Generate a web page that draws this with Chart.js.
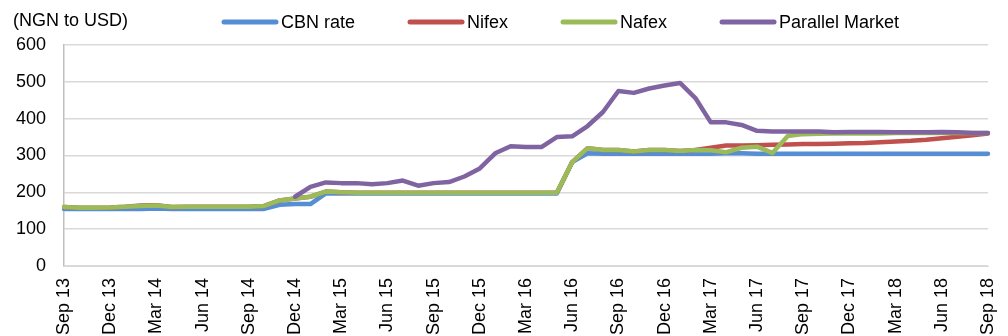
<!DOCTYPE html>
<html>
<head>
<meta charset="utf-8">
<script src="https://cdn.jsdelivr.net/npm/chart.js@4.4.1/dist/chart.umd.min.js"></script>
<style>
    html, body { margin: 0; padding: 0; background: #fff; }
    #wrap { position: relative; width: 1008px; height: 336px; }
</style>
</head>
<body>
<div id="wrap"><canvas id="fxRatesChart"></canvas></div>
<script>
const months = [
    'Sep 13', 'Oct 13', 'Nov 13', 'Dec 13', 'Jan 14', 'Feb 14', 'Mar 14', 'Apr 14', 'May 14', 'Jun 14',
    'Jul 14', 'Aug 14', 'Sep 14', 'Oct 14', 'Nov 14', 'Dec 14', 'Jan 15', 'Feb 15', 'Mar 15', 'Apr 15',
    'May 15', 'Jun 15', 'Jul 15', 'Aug 15', 'Sep 15', 'Oct 15', 'Nov 15', 'Dec 15', 'Jan 16', 'Feb 16',
    'Mar 16', 'Apr 16', 'May 16', 'Jun 16', 'Jul 16', 'Aug 16', 'Sep 16', 'Oct 16', 'Nov 16', 'Dec 16',
    'Jan 17', 'Feb 17', 'Mar 17', 'Apr 17', 'May 17', 'Jun 17', 'Jul 17', 'Aug 17', 'Sep 17', 'Oct 17',
    'Nov 17', 'Dec 17', 'Jan 18', 'Feb 18', 'Mar 18', 'Apr 18', 'May 18', 'Jun 18', 'Jul 18', 'Aug 18',
    'Sep 18'
];

const cbnRate = [
    155, 155, 155, 155, 155, 155, 156, 155, 155, 155,
    155, 155, 155, 155, 166, 168, 168, 197, 197, 197,
    197, 197, 197, 197, 197, 197, 197, 197, 197, 197,
    197, 197, 197, 282, 306, 305, 305, 305, 305, 305,
    305, 305, 305, 306, 306, 305, 305, 305, 305, 305,
    305, 305, 305, 305, 305, 305, 305, 305, 305, 305,
    305
];

const nifex = [
    160, 158, 158, 159, 161, 164, 165, 160, 161, 161,
    161, 161, 161, 163, 178, 183, 188, 202, 200, 199,
    199, 199, 199, 199, 199, 199, 199, 199, 199, 199,
    199, 199, 199, 282, 320, 315, 315, 311, 315, 315,
    312, 315, 321, 327, 327, 328, 329, 330, 331, 331,
    332, 333, 334, 336, 338, 340, 343, 347, 351, 355,
    360
];

const nafex = [
    160, 158, 158, 159, 161, 163, 164, 160, 161, 161,
    161, 161, 161, 163, 178, 183, 188, 202, 200, 199,
    199, 199, 199, 199, 199, 199, 199, 199, 199, 199,
    199, 199, 199, 282, 320, 315, 315, 311, 315, 315,
    312, 315, 314, 309, 321, 324, 307, 353, 358, 359,
    360, 360, 360, 360, 361, 361, 361, 361, 361, 361,
    361
];

const parallelMarket = [
    null, null, null, null, null, null, null, null, null, null,
    null, null, null, null, null, 188, 215, 227, 225, 225,
    222, 225, 232, 218, 225, 228, 243, 265, 306, 325,
    323, 323, 350, 352, 380, 418, 475, 470, 482, 490,
    497, 456, 390, 390, 383, 367, 365, 365, 365, 365,
    363, 364, 364, 364, 363, 363, 363, 364, 363, 361,
    361
];

const yTicks = [0, 100, 200, 300, 400, 500, 600];

const FONT = '"Liberation Sans", Arial, sans-serif';

// legend drawn as long line swatches, plus the unit caption at top left
const lineLegend = {
    id: 'lineLegend',
    afterDraw(chart) {
        const ctx = chart.ctx;
        ctx.save();
        ctx.font = '18px ' + FONT;
        ctx.fillStyle = '#000';
        ctx.textBaseline = 'middle';
        ctx.textAlign = 'left';
        ctx.fillText('(NGN to USD)', 13, 21);

        let x = 224;
        const y = 22;
        chart.data.datasets.forEach(ds => {
            ctx.strokeStyle = ds.borderColor;
            ctx.lineWidth = 5;
            ctx.lineCap = 'round';
            ctx.beginPath();
            ctx.moveTo(x, y);
            ctx.lineTo(x + 52, y);
            ctx.stroke();
            ctx.fillText(ds.label, x + 57, y + 1);
            x += 57 + ctx.measureText(ds.label).width + 55;
        });
        ctx.restore();
    }
};

const makeSeries = (label, data, color, order) => ({
    label: label,
    data: data,
    borderColor: color,
    backgroundColor: color,
    borderWidth: 4.5,
    borderCapStyle: 'round',
    borderJoinStyle: 'round',
    pointRadius: 0,
    tension: 0,
    fill: false,
    spanGaps: false,
    order: order
});

new Chart(document.getElementById('fxRatesChart'), {
    type: 'line',
    data: {
        labels: months,
        datasets: [
            makeSeries('CBN rate', cbnRate, '#558ED5', 3),
            makeSeries('Nifex', nifex, '#C0504D', 2),
            makeSeries('Nafex', nafex, '#9BBB59', 1),
            makeSeries('Parallel Market', parallelMarket, '#8064A2', 0)
        ]
    },
    options: {
        responsive: true,
        maintainAspectRatio: false,
        animation: false,
        layout: { padding: { top: 45, right: 20, left: 0, bottom: 0 } },
        plugins: {
            legend: { display: false },
            tooltip: { enabled: false }
        },
        scales: {
            x: {
                offset: false,
                grid: { display: false, drawTicks: false },
                border: { display: true, color: '#d9d9d9' },
                afterFit: scale => {
                    scale.height = 70;
                    scale.paddingLeft = 0;
                    scale.paddingRight = 0;
                },
                ticks: {
                    autoSkip: false,
                    maxRotation: 90,
                    minRotation: 90,
                    padding: 12,
                    color: '#000',
                    font: { family: FONT, size: 18 },
                    callback: function (value, index) {
                        return index % 3 === 0 ? this.getLabelForValue(value) : '';
                    }
                }
            },
            y: {
                min: 0,
                max: 600,
                afterFit: scale => {
                    scale.width = 64;
                    scale.paddingTop = 0;
                    scale.paddingBottom = 0;
                },
                afterBuildTicks: scale => {
                    scale.ticks = yTicks.map(v => ({ value: v }));
                },
                grid: { color: '#d9d9d9', drawTicks: false, lineWidth: 1.5 },
                border: { display: true, color: '#bfbfbf', width: 1.5 },
                ticks: {
                    padding: 18,
                    color: '#000',
                    font: { family: FONT, size: 18 }
                }
            }
        }
    },
    plugins: [lineLegend]
});
</script>
</body>
</html>
